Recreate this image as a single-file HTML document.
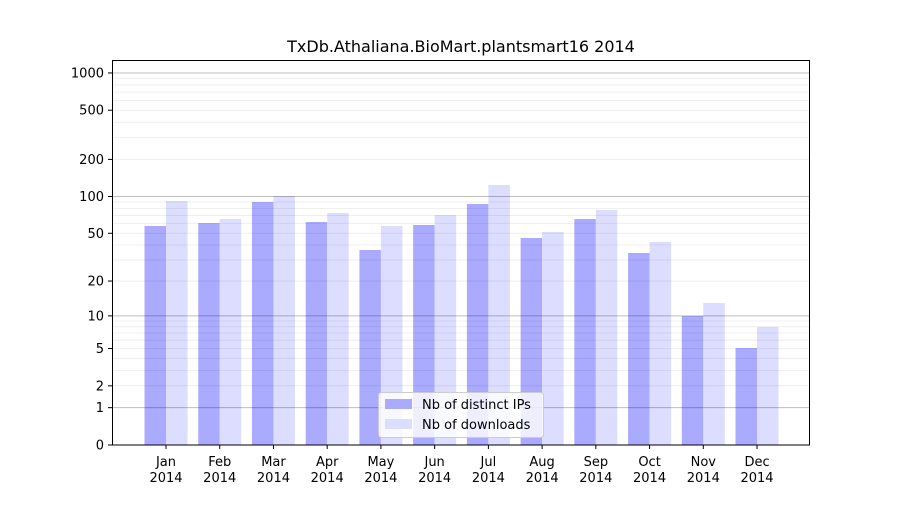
<!DOCTYPE html>
<html><head><meta charset="utf-8"><style>
body{margin:0;background:#fff;}
svg text{font-family:"DejaVu Sans","Liberation Sans",sans-serif;font-size:13px;fill:#000;}
</style></head><body>
<svg id="s" width="900" height="500" xmlns="http://www.w3.org/2000/svg">
<rect width="900" height="500" fill="#fff"/>
<g id="bars"></g>
<g id="grid"></g>
<rect x="112.5" y="60.5" width="697" height="384.5" fill="none" stroke="#000" stroke-width="1"/>
<g id="ticks"></g>
<text x="461" y="52" text-anchor="middle" style="font-size:16px">TxDb.Athaliana.BioMart.plantsmart16 2014</text>
<g>
<rect x="378.5" y="392.5" width="165" height="45" rx="3" fill="#fff" fill-opacity="0.8" stroke="#ccc"/>
<rect x="385" y="399" width="27" height="10" fill="#aaaaff"/>
<text x="422" y="409">Nb of distinct IPs</text>
<rect x="385" y="419" width="27" height="10" fill="#ddddff"/>
<text x="422" y="429">Nb of downloads</text>
</g>
</svg>
<script>
var NS="http://www.w3.org/2000/svg";
function el(p,t,a,txt){var e=document.createElementNS(NS,t);for(var k in a)e.setAttribute(k,a[k]);if(txt!==undefined)e.textContent=txt;document.getElementById(p).appendChild(e);return e;}
function Y(v){return 445-124*Math.log10(1+v);}
[1,10,100].forEach(function(d){for(var i=2;i<10;i++){var y=Y(i*d);el("grid","line",{x1:113,x2:809,y1:y,y2:y,stroke:"#000","stroke-opacity":0.08,"stroke-width":0.8});}});
[1,10,100,1000].forEach(function(v){var y=Y(v);el("grid","line",{x1:113,x2:809,y1:y,y2:y,stroke:"#000","stroke-opacity":0.25,"stroke-width":1});});
[0,1,2,5,10,20,50,100,200,500,1000].forEach(function(v){var y=Y(v);el("ticks","line",{x1:108,x2:112,y1:y,y2:y,stroke:"#000"});el("ticks","text",{x:104,y:y+4.5,"text-anchor":"end"},v);});
var m=["Jan","Feb","Mar","Apr","May","Jun","Jul","Aug","Sep","Oct","Nov","Dec"];
var a=[226,223,202,222,250,225,204,238,219,253,316,348];
var b=[201,219,196,213,226,215,185,232,210,242,303,327];
for(var i=0;i<12;i++){var c=166+i*53.73;
el("bars","rect",{x:c-21.5,y:a[i],width:21.5,height:445-a[i],fill:"#aaaaff"});
el("bars","rect",{x:c,y:b[i],width:21.5,height:445-b[i],fill:"#ddddff"});
el("ticks","line",{x1:c,x2:c,y1:445,y2:449,stroke:"#000"});
el("ticks","text",{x:c,y:466,"text-anchor":"middle"},m[i]);
el("ticks","text",{x:c,y:482,"text-anchor":"middle"},"2014");}
</script>
</body></html>
